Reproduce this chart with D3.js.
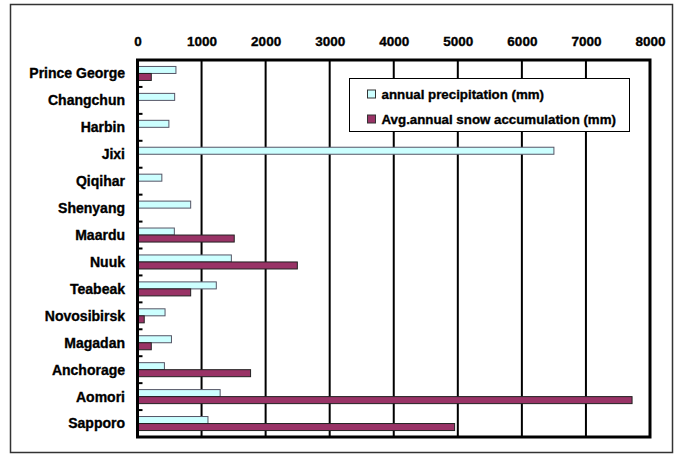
<!DOCTYPE html>
<html>
<head>
<meta charset="utf-8">
<script src="https://cdn.jsdelivr.net/npm/d3@7"></script>
<style>
  html, body { margin: 0; padding: 0; background: #fff; }
  svg { display: block; font-family: "Liberation Sans", Arial, sans-serif; font-weight: bold; }
  .lbl { stroke: #000; stroke-width: 0.35px; }
</style>
</head>
<body>
<svg id="chart" width="684" height="455"></svg>
<script>
// Cities, top to bottom
const cities = ["Prince George", "Changchun", "Harbin", "Jixi", "Qiqihar", "Shenyang", "Maardu",
  "Nuuk", "Teabeak", "Novosibirsk", "Magadan", "Anchorage", "Aomori", "Sapporo"];

// annual precipitation (mm)
const precipitation = [600, 580, 490, 6500, 380, 830, 575, 1465, 1230, 430, 530, 420, 1290, 1100];

// average annual snow accumulation (mm); null = no value
const snow = [215, null, null, null, null, null, 1510, 2495, 830, 105, 215, 1765, 7720, 4950];

const xTicks = [0, 1000, 2000, 3000, 4000, 5000, 6000, 7000, 8000];

const seriesNames = ["annual precipitation (mm)", "Avg.annual snow accumulation (mm)"];
const seriesColors = ["#CCFFFF", "#993366"];

const svg = d3.select("#chart");
const margin = { left: 137.5, right: 650, top: 60, bottom: 437 };

// outer frame
svg.append("rect")
  .attr("x", 10.5).attr("y", 4.5).attr("width", 662).attr("height", 448)
  .attr("fill", "none").attr("stroke", "#333").attr("stroke-width", 1.5);

const x = d3.scaleLinear().domain([0, 8000]).range([margin.left, margin.right]);
const y = d3.scaleBand().domain(cities).range([margin.top, margin.bottom]).padding(0);
const y1 = d3.scaleBand().domain([0, 1]).range([0, y.bandwidth()]).paddingInner(0).paddingOuter(0.92);

// vertical gridlines
svg.append("g")
  .selectAll("line")
  .data(xTicks.slice(1, -1))
  .join("line")
  .attr("x1", d => x(d)).attr("x2", d => x(d))
  .attr("y1", margin.top).attr("y2", margin.bottom)
  .attr("stroke", "#000").attr("stroke-width", 2);

// top axis
const xAxis = svg.append("g")
  .attr("transform", `translate(0,${margin.top})`)
  .call(d3.axisTop(x).tickValues(xTicks).tickSize(0).tickPadding(14).tickFormat(d3.format("d")));
xAxis.select(".domain").remove();
xAxis.selectAll("text").attr("font-size", 13.5).attr("font-weight", "bold").attr("fill", "#000")
  .attr("class", "lbl")
  .attr("font-family", "Liberation Sans, Arial, sans-serif");

// bars
const rows = svg.append("g")
  .selectAll("g")
  .data(cities)
  .join("g")
  .attr("transform", d => `translate(0,${y(d)})`);

rows.selectAll("rect")
  .data((d, i) => [precipitation[i], snow[i]].map((v, s) => ({ v, s })).filter(e => e.v != null))
  .join("rect")
  .attr("x", x(0))
  .attr("y", d => y1(d.s))
  .attr("width", d => x(d.v) - x(0))
  .attr("height", y1.bandwidth())
  .attr("fill", d => seriesColors[d.s])
  .attr("stroke", d => d.s === 0 ? "#556" : "#222")
  .attr("stroke-width", 1);

// left axis with category labels and inward ticks at boundaries
const boundaries = cities.slice(1).map(c => y(c));
svg.append("g")
  .selectAll("line")
  .data(boundaries)
  .join("line")
  .attr("x1", margin.left).attr("x2", margin.left + 5)
  .attr("y1", d => d).attr("y2", d => d)
  .attr("stroke", "#000").attr("stroke-width", 2);

svg.append("g")
  .selectAll("text")
  .data(cities)
  .join("text")
  .attr("class", "lbl")
  .attr("x", 125)
  .attr("y", d => y(d) + y.bandwidth() / 2)
  .attr("dy", "0.35em")
  .attr("text-anchor", "end")
  .attr("font-size", 14)
  .attr("fill", "#000")
  .text(d => d);

// plot frame
svg.append("rect")
  .attr("x", margin.left).attr("y", margin.top)
  .attr("width", margin.right - margin.left).attr("height", margin.bottom - margin.top)
  .attr("fill", "none").attr("stroke", "#000").attr("stroke-width", 3);

// legend
const legend = svg.append("g").attr("transform", "translate(349.5,78.5)");
legend.append("rect")
  .attr("width", 280).attr("height", 53)
  .attr("fill", "#fff").attr("stroke", "#000").attr("stroke-width", 1);
const items = legend.selectAll("g.item")
  .data(seriesNames)
  .join("g")
  .attr("class", "item")
  .attr("transform", (d, i) => `translate(18,${16 + i * 25})`);
items.append("rect")
  .attr("x", 0).attr("y", -4.5).attr("width", 8).attr("height", 8)
  .attr("fill", (d, i) => seriesColors[i])
  .attr("stroke", "#333").attr("stroke-width", 1);
items.append("text")
  .attr("class", "lbl")
  .attr("x", 14).attr("y", 0).attr("dy", "0.36em")
  .attr("font-size", 13.3).attr("fill", "#000")
  .text(d => d);
</script>
</body>
</html>
